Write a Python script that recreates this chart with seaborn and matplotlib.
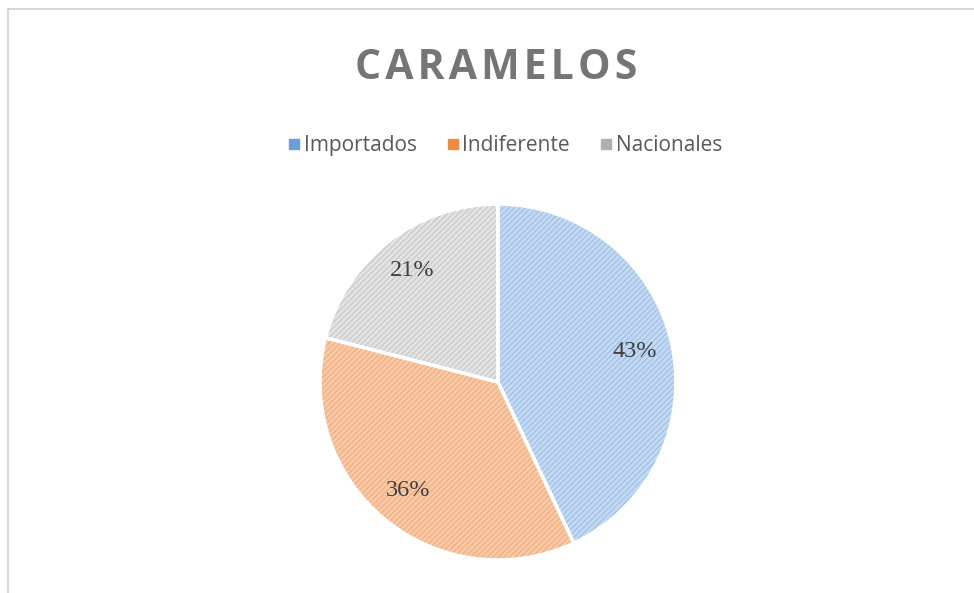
import matplotlib
matplotlib.use("Agg")
import matplotlib.pyplot as plt
import seaborn as sns
from matplotlib.lines import Line2D

# data
categories = ["Importados", "Indiferente", "Nacionales"]
shares = [43, 36, 21]
face_colors = ["#c3d8f1", "#f8c9a7", "#e2e2e2"]
hatch_colors = ["#93b8e4", "#f0a36e", "#c0c0c0"]
legend_colors = ["#6a9fd8", "#ef8a45", "#b0b0b0"]

sns.set_theme(style="white")
plt.rcParams['font.family'] = ['Open Sans', 'DejaVu Sans']
plt.rcParams['hatch.linewidth'] = 0.6

fig = plt.figure(figsize=(9.74, 5.93), dpi=100)

# pie axes, placed so the pie sits where it does in the chart
ax = fig.add_axes([0.3285, 0.0556, 0.3655, 0.6003])

# first pass: hatched fill
wedges, _ = ax.pie(shares, startangle=90, counterclock=False,
                   colors=face_colors,
                   wedgeprops=dict(linewidth=0))
for w, hc in zip(wedges, hatch_colors):
    w.set_hatch("//////")
    w.set_edgecolor(hc)

# second pass: white separators and percent labels
wedges2, _, autotexts = ax.pie(shares, startangle=90, counterclock=False,
                               autopct='%1.0f%%', pctdistance=0.79,
                               wedgeprops=dict(fill=False, edgecolor="white", linewidth=2.5))
for t in autotexts:
    t.set_fontfamily('Liberation Serif')
    t.set_fontsize(17.5)
    t.set_color("#404040")

ax.set_xlim(-1.0, 1.0)
ax.set_ylim(-1.0, 1.0)
for w in list(wedges) + list(wedges2):
    w.set_clip_on(False)

# title, letters spread a little with hair spaces
fig.text(0.509, 0.885, "\u200a".join("CARAMELOS"), ha="center", va="center",
         fontsize=29.5, fontweight="bold", color="#757575")

# legend
handles = [Line2D([0], [0], marker="s", linestyle="none", markersize=6.5,
                  markerfacecolor=c, markeredgecolor=c) for c in legend_colors]
fig.legend(handles, categories, loc="center", bbox_to_anchor=(0.518, 0.754),
           ncol=3, frameon=False, fontsize=15, labelcolor="#595959",
           handletextpad=0.1, columnspacing=1.4, handlelength=0.7)

# chart border (top and left visible)
fig.add_artist(Line2D([0.008, 0.008], [0.0, 0.985], color="#d0d0d0", linewidth=1.2))
fig.add_artist(Line2D([0.008, 1.0], [0.985, 0.985], color="#d0d0d0", linewidth=1.2))

fig.savefig("out.png", dpi=100, facecolor="white")
